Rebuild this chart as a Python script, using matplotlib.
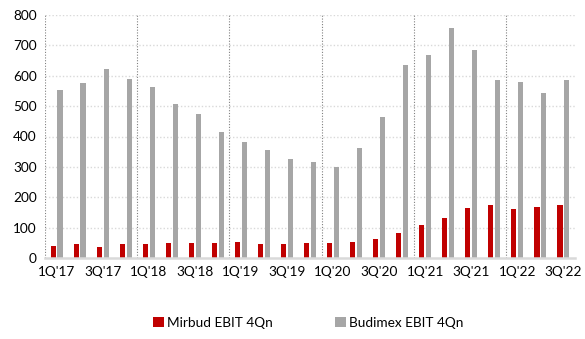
import matplotlib
matplotlib.use("Agg")
import matplotlib.pyplot as plt
import numpy as np

quarters = ["1Q'17","2Q'17","3Q'17","4Q'17","1Q'18","2Q'18","3Q'18","4Q'18",
            "1Q'19","2Q'19","3Q'19","4Q'19","1Q'20","2Q'20","3Q'20","4Q'20",
            "1Q'21","2Q'21","3Q'21","4Q'21","1Q'22","2Q'22","3Q'22"]
mirbud = [40, 47, 36, 46, 46, 49, 48, 49, 53, 46, 47, 51, 51, 52, 62, 82,
          108, 131, 166, 173, 160, 167, 174]
budimex = [552, 575, 621, 588, 562, 508, 473, 415, 381, 356, 326, 315, 300, 362, 463, 637,
           667, 757, 685, 586, 580, 544, 586]
yticks = [0, 100, 200, 300, 400, 500, 600, 700, 800]

plt.rcParams['font.family'] = ['Lato', 'DejaVu Sans']

fig = plt.figure(figsize=(5.85, 3.39), dpi=100)
ax = fig.add_axes([45/585, 1-258/339, 530/585, (258-15)/339])

x = np.arange(len(quarters))
w = 0.22
ax.bar(x - 0.15, mirbud, width=w, color='#C00000', label='Mirbud EBIT 4Qn', zorder=3)
ax.bar(x + 0.15, budimex, width=w, color='#A6A6A6', label='Budimex EBIT 4Qn', zorder=3)

ax.set_xlim(-0.5, len(quarters) - 0.5)
ax.set_ylim(0, 800)
ax.set_yticks(yticks)
ax.set_yticklabels([str(v) for v in yticks])
for y in yticks[1:]:
    ax.axhline(y, color='#D9D9D9', linestyle=(0, (1, 1.5)), linewidth=1.0, zorder=1)
for xv in np.arange(-0.5, len(quarters), 4):
    ax.axvline(xv, color='#808080', linestyle=(0, (1, 1.5)), linewidth=0.8, zorder=2)

ax.set_xticks(x[::2])
ax.set_xticklabels(quarters[::2])
ax.tick_params(axis='both', length=0, labelsize=9.8, colors='#000000')
ax.tick_params(axis='x', pad=6)
ax.tick_params(axis='y', pad=6)
for s in ['top', 'right', 'left']:
    ax.spines[s].set_visible(False)
ax.spines['bottom'].set_color('#D9D9D9')
ax.spines['bottom'].set_linewidth(1.8)
ax.spines['bottom'].set_zorder(4)

fig.legend(loc='center', bbox_to_anchor=(308/585, 1-323/339), ncol=2, frameon=False,
           fontsize=9.8, handlelength=0.8, handleheight=0.8, handletextpad=0.2,
           columnspacing=4.6)

fig.savefig('out.png', dpi=100)
